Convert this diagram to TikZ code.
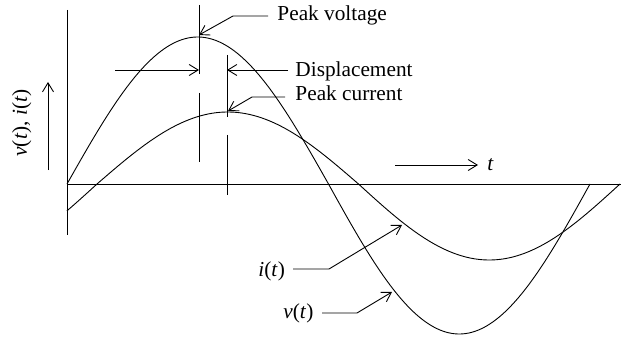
\documentclass[tikz,border=0pt]{standalone}
\usepackage{fontspec}
\setmainfont{Liberation Serif}
\usetikzlibrary{arrows.meta}
\begin{document}
\begin{tikzpicture}[x=1pt,y=-1pt,line width=0.9pt,
  lbl/.style={inner sep=0pt,font=\fontsize{21.3}{25}\selectfont},
  tip/.style={-{Straight Barb[length=9pt,width=11pt]}}]
\useasboundingbox (0,0) rectangle (622,337);
% axes
\coordinate (ytop) at (67,10); \coordinate (ybot) at (67,235);
\coordinate (xl) at (67,184); \coordinate (xr) at (621,184);
\draw (ytop) -- (ybot);
\draw (xl) -- (xr);
% v(t)
\draw plot[domain=67:328.5,samples=90,smooth] (\x,{184-147*sin((\x-67)/261.5*180)})
   -- plot[domain=328.5:590,samples=90,smooth] (\x,{184-150*sin((\x-67)/261.5*180)});
% i(t)
\draw plot[domain=67:97,samples=12,smooth] (\x,{184-76*sin((\x-97)/261.5*180)})
   -- plot[domain=97:358.5,samples=90,smooth] (\x,{184-72*sin((\x-97)/261.5*180)})
   -- plot[domain=358.5:620,samples=90,smooth] (\x,{184-76*sin((\x-97)/261.5*180)});
% marker lines
\coordinate (a1) at (199,5);  \coordinate (a2) at (199,74);
\coordinate (a3) at (199,93); \coordinate (a4) at (199,162);
\coordinate (b1) at (227,55); \coordinate (b2) at (227,117);
\coordinate (b3) at (227,135);\coordinate (b4) at (227,195);
\draw (a1) -- (a2); \draw (a3) -- (a4);
\draw (b1) -- (b2); \draw (b3) -- (b4);
% labels
\node[lbl,anchor=base west] (pv) at (277,21) {Peak voltage};
\node[lbl,anchor=base west] (disp) at (295,77) {Displacement};
\node[lbl,anchor=base west] (pc) at (295,101) {Peak current};
\node[lbl,anchor=base west] (it) at (258,276) {\itshape i\/\upshape(\itshape t\/\upshape)};
\node[lbl,anchor=base west] (vt) at (283,318) {\itshape v\/\upshape(\itshape t\/\upshape)};
\node[lbl,anchor=base west] (tt) at (487,171) {\itshape t};
\node[lbl,anchor=base,rotate=90] (vi) at (27,123) {\itshape v\/\upshape(\itshape t\/\upshape), \itshape i\/\upshape(\itshape t\/\upshape)};
% displacement arrows
\coordinate (dl) at (115,70); \coordinate (dlt) at (199,70);
\coordinate (dr) at (288,70); \coordinate (drt) at (227,70);
\draw[tip] (dl) -- (dlt);
\draw[tip] (dr) -- (drt);
% leaders
\coordinate (pvs) at (268,16); \coordinate (pvb) at (233,16); \coordinate (pvt) at (199,35);
\draw[tip] (pvs) -- (pvb) -- (pvt);
\coordinate (pcs) at (285,97); \coordinate (pcb) at (252,97); \coordinate (pct) at (228,111);
\draw[tip] (pcs) -- (pcb) -- (pct);
\coordinate (its) at (293,269); \coordinate (itb) at (329,269); \coordinate (itt) at (402,225);
\draw[tip] (its) -- (itb) -- (itt);
\coordinate (vts) at (322,313); \coordinate (vtb) at (357,313); \coordinate (vtt) at (392,292);
\draw[tip] (vts) -- (vtb) -- (vtt);
% t arrow and vertical arrow
\coordinate (ts) at (395,165); \coordinate (te) at (478,165);
\draw[tip] (ts) -- (te);
\coordinate (vs) at (48,170); \coordinate (ve) at (48,82);
\draw[tip] (vs) -- (ve);
\end{tikzpicture}
\end{document}
